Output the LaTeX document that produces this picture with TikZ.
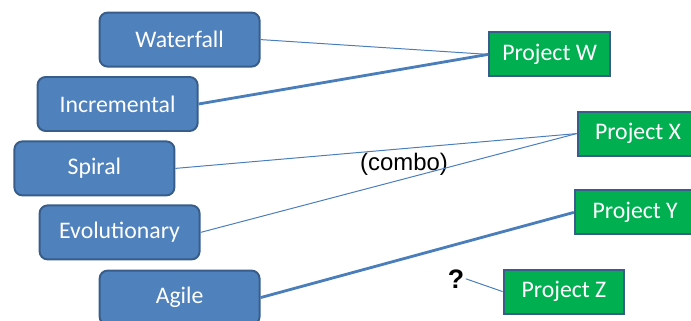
\documentclass[tikz,border=0pt]{standalone}
\usepackage{fontspec}
\setmainfont{Carlito}
\newfontfamily\arialfont{Liberation Sans}
\usepackage{xcolor}
\usetikzlibrary{positioning}
\definecolor{boxblue}{HTML}{4F81BD}
\definecolor{boxedge}{HTML}{385D8A}
\definecolor{projgreen}{HTML}{00B050}
\definecolor{linkblue}{HTML}{4A7EBB}
\begin{document}
\begin{tikzpicture}[
        model/.style={draw=boxedge, line width=1.4pt, fill=boxblue, rounded corners=0.2cm,
        minimum width=4.0cm, minimum height=1.35cm, text=white, font=\fontsize{16.9}{19}\selectfont},
        proj/.style={draw=boxedge, line width=1.4pt, fill=projgreen, minimum width=3.02cm,
        minimum height=1.1cm, text=white, font=\fontsize{16.9}{19}\selectfont},
        link/.style={draw=linkblue, line width=0.7pt},
        strong/.style={draw=linkblue, line width=2pt}
      ]
      \useasboundingbox (0,0) rectangle (17.275,8);
      \clip (0,0) rectangle (17.275,8);
      \node[model] (waterfall)   at (4.49, 7.01) {Waterfall};
      \node[model] (incremental) at (2.94, 5.40) {Incremental};
      \node[model] (spiral)      at (2.36, 3.79) {Spiral};
      \node[model] (evolution)   at (2.99, 2.19) {Evolutionary};
      \node[model] (agile)       at (4.49, 0.56) {Agile};

      \node[proj] (projw) at (13.74, 6.64) {Project W};
      \node[proj] (projx) at (15.95, 4.66) {Project X};
      \node[proj] (projy) at (15.88, 2.69) {Project Y};
      \node[proj] (projz) at (14.10, 0.71) {Project Z};

      \node[font=\arialfont\fontsize{17}{20}\selectfont] (combo) at (10.1, 3.90) {(combo)};
      \node[font=\arialfont\bfseries\fontsize{19}{22}\selectfont, inner sep=1pt] (unknown) at (11.4, 1.03) {?};

      \draw[link]   (waterfall.east)   -- (projw.west);
      \draw[strong] (incremental.east) -- (projw.west);
      % two models combined for one project
      \draw[link]   (spiral.east)      -- (projx.west);
      \draw[link]   (evolution.east)   -- (projx.west);
      \draw[strong] (agile.east)       -- (projy.west);
      \draw[link]   (unknown.east)     -- (projz.west);
    \end{tikzpicture}
\end{document}
